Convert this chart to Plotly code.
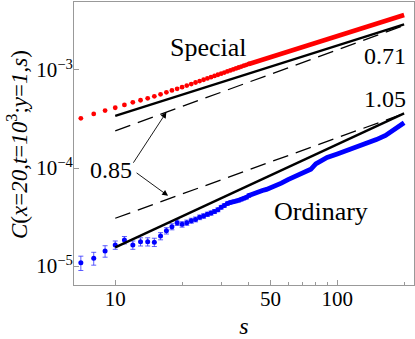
import numpy as np
import plotly.graph_objects as go

# Data -----------------------------------------------------------------------
# integer s where points are drawn as separate dots
s_dots = list(range(7, 41))

# Special boundary (red), units of 1e-4
special_dots = [3.21, 3.56, 3.85, 4.12, 4.40, 4.68, 4.91, 5.14, 5.39, 5.65, 5.92,
                6.18, 6.43, 6.68, 6.94, 7.19, 7.45, 7.70, 7.95, 8.20, 8.45, 8.70,
                8.94, 9.18, 9.42, 9.66, 9.90, 10.13, 10.37, 10.60, 10.83, 11.06,
                11.29, 11.52]
# dense part where the dots merge into a band
s_special_band = [40, 50, 60, 70, 80, 100, 120, 150, 200]
special_band = [11.52, 13.5, 15.5, 17.4, 18.9, 22.2, 25.2, 29.6, 36.4]

# Ordinary boundary (blue), units of 1e-5
ordinary_dots = [1.08, 1.20, 1.42, 1.64, 1.84, 1.64, 1.77, 1.77, 1.75, 2.02, 2.29,
                 2.52, 2.77, 2.66, 2.77, 2.90, 2.99, 3.14, 3.24, 3.37, 3.47, 3.60,
                 3.75, 3.98, 4.15, 4.33, 4.45, 4.53, 4.60, 4.68, 4.80, 4.92, 5.02,
                 5.25]
ordinary_err = [0.18, 0.18, 0.19, 0.16, 0.16, 0.16, 0.17, 0.17, 0.17, 0.17, 0.17,
                0.18, 0.18, 0.17, 0.17, 0.17, 0.17, 0.17, 0.17, 0.17, 0.17, 0.17,
                0.17, 0.17, 0.17, 0.17, 0.17, 0.17, 0.17, 0.17, 0.17, 0.17, 0.17,
                0.17]
s_ordinary_band = [40, 42, 44, 46, 48, 50, 53, 56, 60, 64, 68, 72, 76, 80, 85, 90,
                   100, 110, 120, 135, 150, 165, 180, 200]
ordinary_band = [5.25, 5.50, 5.70, 5.90, 6.05, 6.25, 6.60, 7.00, 7.60, 8.10, 8.50,
                 9.10, 9.70, 11.0, 12.1, 12.8, 13.9, 15.0, 16.1, 17.8, 19.5, 21.5,
                 24.5, 29.0]

# guide lines (end points at s = 10 and s = 200)
s_guide = [10, 200]
special_fit = [3.40e-4, 2.92e-3]      # slope 0.71
special_dash = [2.39e-4, 2.85e-3]     # slope 0.85
ordinary_fit = [1.55e-5, 3.61e-4]     # slope 1.05
ordinary_dash = [3.07e-5, 3.60e-4]    # slope 0.85

x_ticks = [10, 50, 100]
x_minor = [20, 30, 40, 60, 70, 80, 90, 200]
y_ticks = [1e-5, 1e-4, 1e-3]
y_ticktext = ['10<sup>\u22125</sup>', '10<sup>\u22124</sup>', '10<sup>\u22123</sup>']

FONT = 'Liberation Serif, Times New Roman, serif'

fig = go.Figure()

fig.add_trace(go.Scatter(
    x=s_special_band, y=np.array(special_band) * 1e-4, mode='lines',
    line=dict(color='#ff0000', width=4.6), hoverinfo='skip'))
fig.add_trace(go.Scatter(
    x=s_dots, y=np.array(special_dots) * 1e-4, mode='markers',
    marker=dict(color='#ff0000', size=4.8, line=dict(width=0))))

fig.add_trace(go.Scatter(
    x=s_ordinary_band, y=np.array(ordinary_band) * 1e-5, mode='lines',
    line=dict(color='#0000ff', width=4.8), hoverinfo='skip'))
fig.add_trace(go.Scatter(
    x=s_dots, y=np.array(ordinary_dots) * 1e-5, mode='markers',
    marker=dict(color='#0000ff', size=5, line=dict(width=0)),
    error_y=dict(type='data', array=np.array(ordinary_err) * 1e-5,
                 color='rgba(40,40,255,0.75)', thickness=1, width=2.5)))

# guide lines
for ys, dash, w in [(special_fit, 'solid', 2.4), (special_dash, '16px,8px', 1.3),
                    (ordinary_fit, 'solid', 2.4), (ordinary_dash, '16px,8px', 1.3)]:
    fig.add_trace(go.Scatter(x=s_guide, y=ys, mode='lines',
                             line=dict(color='black', width=w, dash=dash)))

def px_to_paper(px, py):
    return (px - 74) / 340, (285 - py) / 283

annots = []
for text, px, py in [('Special', 208, 47), ('Ordinary', 321, 212),
                     ('0.71', 385, 56), ('1.05', 385, 99), ('0.85', 111, 170)]:
    ax_, ay_ = px_to_paper(px, py)
    annots.append(dict(text=text, x=ax_, y=ay_, xref='paper', yref='paper',
                       xanchor='center', yanchor='middle', showarrow=False,
                       font=dict(size=26 if text[0].isalpha() else 24,
                                 color='black', family=FONT)))

# arrows from the 0.85 label to the dashed lines
annots.append(dict(x=np.log10(17), y=np.log10(3.71e-4), xref='x', yref='y',
                   ax=-34, ay=52, axref='pixel', ayref='pixel', text='',
                   showarrow=True, arrowhead=2, arrowsize=1.3, arrowwidth=0.9,
                   arrowcolor='black'))
annots.append(dict(x=np.log10(17.3), y=np.log10(5.2e-5), xref='x', yref='y',
                   ax=-33, ay=-24, axref='pixel', ayref='pixel', text='',
                   showarrow=True, arrowhead=2, arrowsize=1.3, arrowwidth=0.9,
                   arrowcolor='black'))

# y axis title
tx, ty = px_to_paper(17, 145)
annots.append(dict(text='<i>C</i>(<i>x</i>=<i>20</i>,<i>t</i>=<i>10</i><sup>3</sup>;<i>y</i>=<i>1</i>,<i>s</i>)',
                   x=tx, y=ty, xref='paper', yref='paper', textangle=-90,
                   xanchor='center', yanchor='middle',
                   showarrow=False, font=dict(size=23, color='black', family=FONT)))

fig.update_layout(
    width=415, height=339,
    margin=dict(l=74, r=1, t=2, b=54),
    paper_bgcolor='white', plot_bgcolor='white',
    showlegend=False,
    font=dict(family=FONT, size=20, color='black'),
    annotations=annots,
    xaxis=dict(
        type='log', range=[np.log10(6.52), np.log10(221.6)],
        tickmode='array', tickvals=x_ticks, ticktext=[str(v) for v in x_ticks],
        ticks='inside', ticklen=5, tickwidth=1, tickcolor='#999999',
        showline=True, linecolor='#999999', linewidth=1, mirror=True,
        showgrid=False, zeroline=False, ticklabelstandoff=-5,
        tickfont=dict(size=21, family=FONT),
        minor=dict(tickmode='array', tickvals=x_minor, ticks='inside',
                   ticklen=3.5, tickcolor='#999999', showgrid=False),
        title=dict(text='<i>s</i>', font=dict(size=24, family=FONT), standoff=9),
    ),
    yaxis=dict(
        type='log', range=[np.log10(6.4e-6), np.log10(4.94e-3)],
        tickmode='array', tickvals=y_ticks, ticktext=y_ticktext,
        ticks='inside', ticklen=5, tickwidth=1, tickcolor='#999999',
        showline=True, linecolor='#999999', linewidth=1, mirror=True,
        showgrid=False, zeroline=False, ticklabelstandoff=-4,
        tickfont=dict(size=21, family=FONT),
    ),
)

# the page body has a default margin that would shift the figure
fig.write_html("out.html", config={'displayModeBar': False},
               post_script="document.body.style.margin='0';")
